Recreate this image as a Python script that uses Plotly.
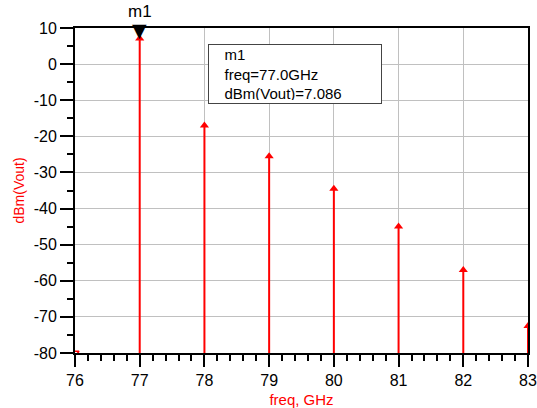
import plotly.graph_objects as go

freq = [76, 77, 78, 79, 80, 81, 82, 83]
dbm = [-90, 7.086, -17.0, -25.5, -34.5, -45.0, -57.0, -72.5]
y_floor = -80
ytick_vals = [10, 0, -10, -20, -30, -40, -50, -60, -70, -80]
ytick_text = ["10", "0", "-10", "-20", "-30", "-40", "-50", "-60", "-70", "-80"]
marker_name = "m1"
marker_freq = 77.0
marker_val = 7.086

red = "#ff0000"
fig = go.Figure()

xs, ys = [], []
for f, v in zip(freq, dbm):
    if v > y_floor:
        xs += [f, f, None]
        ys += [y_floor, v, None]
fig.add_trace(go.Scatter(x=xs, y=ys, mode="lines", line=dict(color=red, width=2),
                         hoverinfo="skip", showlegend=False))
in_f = [f for f, v in zip(freq, dbm) if v > y_floor]
in_v = [v for v in dbm if v > y_floor]
fig.add_trace(go.Scatter(x=in_f, y=in_v, mode="markers",
                         marker=dict(symbol="triangle-up", size=8, color=red),
                         showlegend=False))
out_f = [f for f, v in zip(freq, dbm) if v <= y_floor]
fig.add_trace(go.Scatter(x=out_f, y=[y_floor] * len(out_f), mode="markers",
                         marker=dict(symbol="triangle-down-open", size=7, color=red,
                                     line=dict(color=red, width=1.5)),
                         showlegend=False))
# invisible trace for the top border axis
fig.add_trace(go.Scatter(x=[freq[0], freq[-1]], y=[y_floor, y_floor], mode="markers",
                         marker=dict(opacity=0), xaxis="x2", hoverinfo="skip", showlegend=False))

# marker m1: triangle and label
fig.add_annotation(x=marker_freq, y=10, xref="x", yref="y", text="▼", showarrow=False,
                   yanchor="middle", yshift=-2,
                   font=dict(family="DejaVu Sans", size=19, color="black"))
fig.add_annotation(x=marker_freq, y=10, xref="x", yref="y", text=marker_name, showarrow=False,
                   yanchor="bottom", yshift=5,
                   font=dict(family="Liberation Sans, Arial", size=17, color="black"))

fig.add_annotation(xref="paper", yref="paper", x=(208 - 75) / 453, y=(353 - 44) / 325,
                   xanchor="left", yanchor="top", align="left", showarrow=False,
                   text=f"&nbsp;&nbsp;&nbsp;{marker_name}<br>&nbsp;&nbsp;&nbsp;freq={marker_freq:.1f}GHz<br>&nbsp;&nbsp;&nbsp;dBm(Vout)={marker_val:.3f}",
                   font=dict(family="Liberation Sans, Arial", size=15, color="black"),
                   bordercolor="#444444", borderwidth=1, borderpad=3, bgcolor="white",
                   width=166, height=52)

axis_font = dict(family="Liberation Sans, Arial", size=16, color="black")
fig.update_layout(
    xaxis=dict(range=[76, 83], dtick=1, ticks="outside", ticklen=12, tickwidth=2, tickcolor="black",
               showline=True, linecolor="black", linewidth=2,
               showgrid=True, gridcolor="#c0c0c0", gridwidth=1, zeroline=False, tickfont=axis_font,
               minor=dict(ticks="outside", dtick=0.2, ticklen=6, tickwidth=2, tickcolor="black", showgrid=False),
               title=dict(text="freq, GHz", font=dict(family="Liberation Sans, Arial", size=15, color=red))),
    xaxis2=dict(range=[76, 83], overlaying="x", anchor="y", side="top", showline=True, linecolor="black",
                linewidth=2, ticks="", showticklabels=False, showgrid=False, zeroline=False),
    yaxis=dict(range=[-80, 10], tickvals=ytick_vals, ticktext=ytick_text, ticks="outside", ticklen=13,
               tickwidth=2, tickcolor="black", showline=True, linecolor="black", linewidth=2, mirror=True,
               showgrid=True, gridcolor="#c0c0c0", gridwidth=1, zeroline=False,
               tickfont=axis_font, automargin=False,
               minor=dict(dtick=5, tick0=0, ticks="outside", ticklen=6, tickwidth=2, tickcolor="black", showgrid=False),
               title=dict(text="dBm(Vout)", font=dict(family="Liberation Sans, Arial", size=14, color=red), standoff=6)),
    width=537, height=408, margin=dict(l=75, r=9, t=28, b=55, autoexpand=False),
    plot_bgcolor="white", paper_bgcolor="white", showlegend=False)
fig.write_html("out.html", post_script="document.body.style.margin='0';",
               config={"displayModeBar": False})
